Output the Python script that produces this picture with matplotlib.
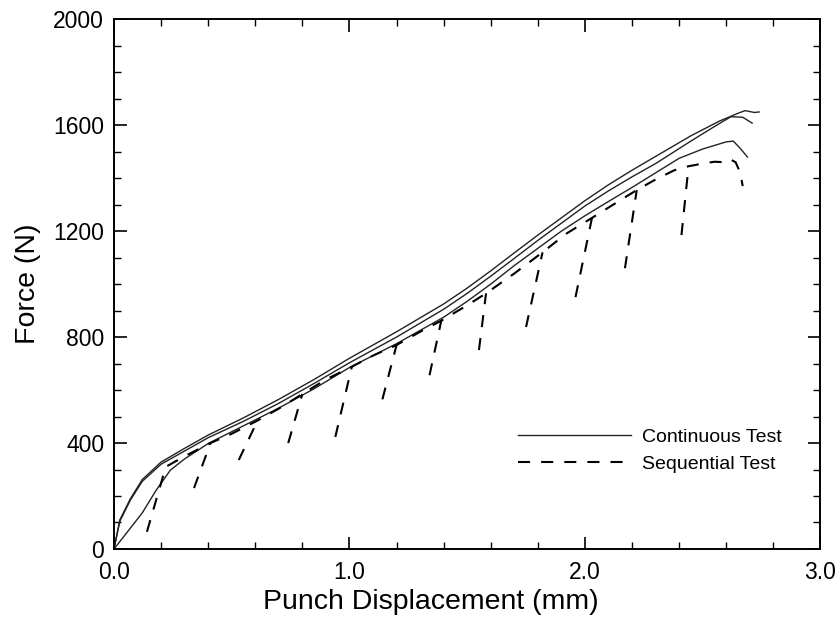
import numpy as np
import matplotlib
matplotlib.use("Agg")
import matplotlib.pyplot as plt
from matplotlib.ticker import MultipleLocator, FormatStrFormatter

plt.rcParams['font.family'] = ['Liberation Sans', 'DejaVu Sans']

# continuous tests (three specimens)
cont1_x = [0, 0.025, 0.07, 0.12, 0.2, 0.3, 0.4, 0.55, 0.7, 0.85, 1.0, 1.2, 1.4, 1.5,
           1.6, 1.7, 1.8, 1.9, 2.0, 2.1, 2.2, 2.3, 2.45, 2.57, 2.65, 2.68, 2.72, 2.74]
cont1_y = [0, 110, 190, 262, 328, 380, 430, 495, 565, 640, 720, 820, 925, 985,
           1050, 1118, 1185, 1250, 1315, 1375, 1430, 1482, 1560, 1615, 1645, 1655, 1648, 1650]

cont2_x = [0, 0.025, 0.07, 0.12, 0.2, 0.3, 0.4, 0.55, 0.7, 0.85, 1.0, 1.2, 1.4, 1.5,
           1.6, 1.7, 1.8, 1.9, 2.0, 2.1, 2.2, 2.3, 2.45, 2.55, 2.62, 2.67, 2.71]
cont2_y = [0, 105, 185, 255, 320, 370, 420, 482, 550, 625, 703, 800, 905, 965,
           1030, 1097, 1165, 1230, 1295, 1352, 1405, 1455, 1540, 1595, 1632, 1630, 1608]

cont3_x = [0, 0.04, 0.12, 0.18, 0.24, 0.3, 0.4, 0.55, 0.7, 0.85, 1.0, 1.2, 1.4, 1.5,
           1.6, 1.7, 1.8, 1.9, 2.0, 2.1, 2.2, 2.4, 2.5, 2.6, 2.63, 2.66, 2.69]
cont3_y = [0, 45, 136, 223, 298, 340, 398, 465, 532, 605, 685, 775, 875, 935,
           1000, 1070, 1135, 1200, 1258, 1312, 1365, 1475, 1510, 1537, 1540, 1512, 1480]

# sequential test: loading envelope
seq_x = [0.14, 0.22, 0.3, 0.41, 0.5, 0.61, 0.7, 0.8, 0.9, 1.01, 1.1, 1.2, 1.3, 1.39,
         1.5, 1.58, 1.7, 1.82, 1.92, 2.03, 2.12, 2.22, 2.3, 2.38, 2.44, 2.5, 2.55,
         2.6, 2.62, 2.64, 2.66, 2.67]
seq_y = [65, 310, 350, 400, 435, 485, 530, 585, 640, 688, 730, 770, 820, 862,
         920, 965, 1040, 1120, 1190, 1250, 1300, 1355, 1395, 1430, 1445, 1455, 1462,
         1460, 1470, 1460, 1420, 1370]

# sequential test: reloading branches (bottom -> back on envelope)
reload_x0 = [0.34, 0.53, 0.74, 0.94, 1.14, 1.34, 1.55, 1.75, 1.96, 2.17, 2.41]
reload_y0 = [230, 336, 400, 423, 565, 656, 751, 838, 951, 1060, 1185]
reload_x1 = [0.41, 0.61, 0.80, 1.01, 1.20, 1.39, 1.58, 1.82, 2.03, 2.22, 2.44]
reload_y1 = [400, 485, 585, 688, 770, 862, 965, 1120, 1250, 1355, 1445]

fig = plt.figure(figsize=(8.38, 6.21), dpi=100)
ax = fig.add_axes([0.136, 0.116, 0.843, 0.853])

ax.plot(cont1_x, cont1_y, color='#222222', lw=1.0, label='Continuous Test')
ax.plot(cont2_x, cont2_y, color='#222222', lw=1.0)
ax.plot(cont3_x, cont3_y, color='#222222', lw=1.0)

dash = (5.8, 5.3)
ax.plot(seq_x, seq_y, color='black', lw=1.5, dashes=dash, label='Sequential Test')
for i in range(len(reload_x0)):
    ax.plot([reload_x0[i], reload_x1[i]], [reload_y0[i], reload_y1[i]],
            color='black', lw=1.5, dashes=dash)

ax.set_xlim(0, 3.0)
ax.set_ylim(0, 2000)
ax.xaxis.set_major_locator(MultipleLocator(1.0))
ax.xaxis.set_minor_locator(MultipleLocator(0.2))
ax.yaxis.set_major_locator(MultipleLocator(400))
ax.yaxis.set_minor_locator(MultipleLocator(100))
ax.xaxis.set_major_formatter(FormatStrFormatter('%.1f'))
ax.tick_params(which='both', direction='in', top=True, right=True, labelsize=16.5)
ax.tick_params(which='major', length=9, width=1.2)
ax.tick_params(which='minor', length=5, width=1.0)
ax.tick_params(axis='x', which='major', pad=9)
ax.tick_params(axis='y', which='major', pad=7)
for s in ax.spines.values():
    s.set_linewidth(1.4)

ax.set_xlabel('Punch Displacement (mm)', fontsize=20.5)
ax.set_ylabel('Force (N)', fontsize=20.5, labelpad=9)
ax.xaxis.set_label_coords(0.449, -0.075)

ax.legend(loc='upper left', bbox_to_anchor=(0.572, 0.228), frameon=False,
          fontsize=14, handlelength=5.8, handletextpad=0.6, labelspacing=0.5,
          borderpad=0, borderaxespad=0)

fig.savefig('out.png', dpi=100)
